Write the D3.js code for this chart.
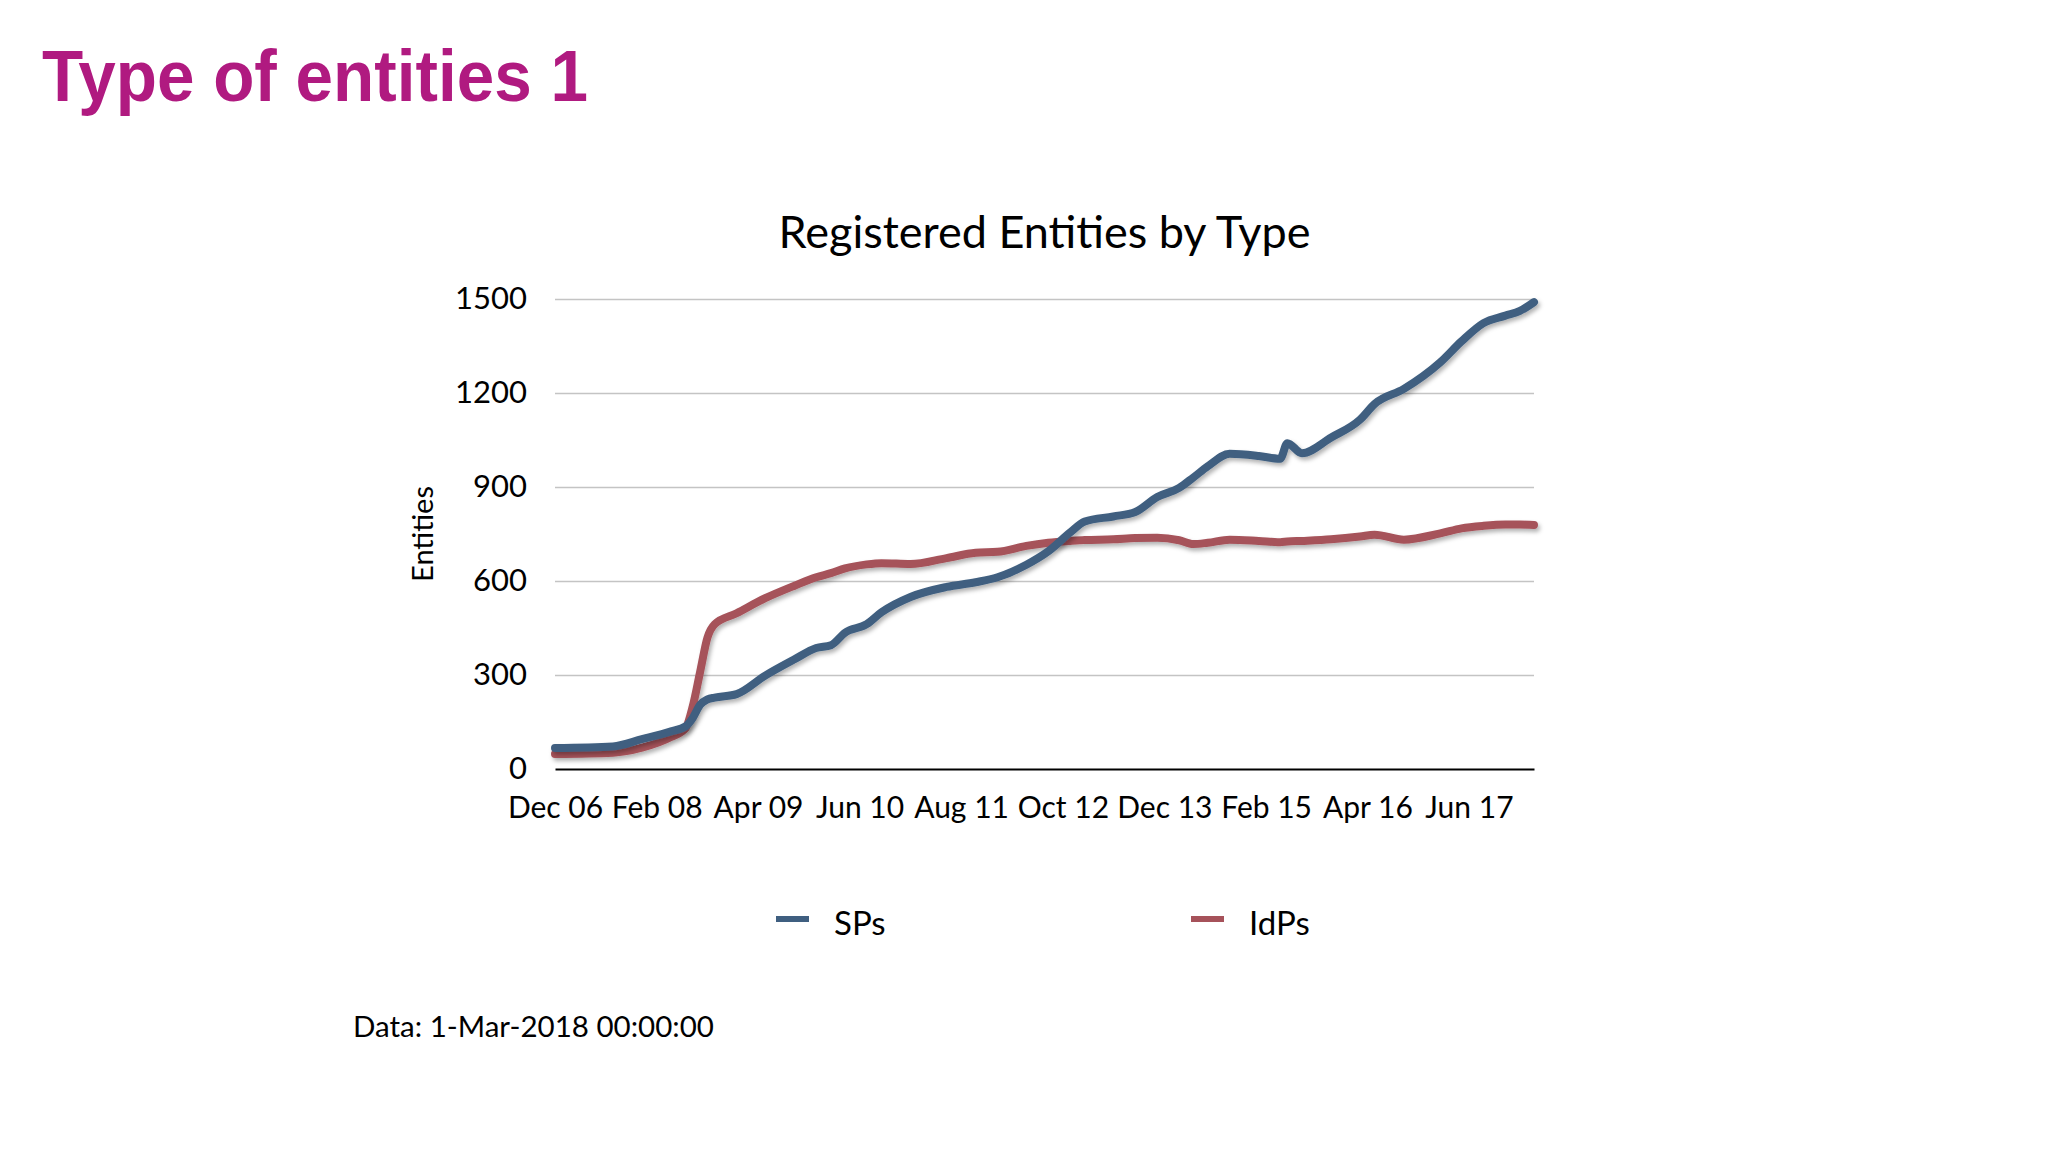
<!DOCTYPE html>
<html>
<head>
<meta charset="utf-8">
<script src="https://cdn.jsdelivr.net/npm/d3@7"></script>
<style>
  html, body { margin: 0; padding: 0; background: #ffffff; }
  svg { display: block; }
</style>
</head>
<body>
<script>
// monthly readings (Dec 2006 .. Mar 2018)
var months = ["2006-12","2007-08","2007-12","2008-04","2008-06","2008-07","2008-08","2008-09","2008-10",
              "2009-01","2009-05","2009-09","2009-12","2010-02","2010-04","2010-07","2010-09","2011-01",
              "2011-06","2011-10","2012-01","2012-05","2012-08","2012-11","2013-01","2013-05","2013-08",
              "2013-11","2014-02","2014-04","2014-06","2014-09","2015-01","2015-04","2015-05","2015-07",
              "2015-11","2016-03","2016-05","2016-09","2017-02","2017-05","2017-08","2017-11","2018-01","2018-03"];
var sps  = [67, 72, 95, 120, 136, 163, 205, 222, 228,
            239, 298, 350, 386, 395, 435, 462, 500, 549,
            581, 596, 612, 652, 695, 755, 790, 806, 820,
            868, 897, 930, 966, 1006, 999, 990, 1040, 1008,
            1058, 1115, 1165, 1213, 1298, 1365, 1423, 1447, 1462, 1490];
var idps = [48, 52, 68, 102, 130, 200, 310, 420, 462,
            497, 545, 585, 612, 625, 640, 653, 657, 654,
            673, 690, 693, 712, 722, 728, 731, 733, 737,
            738, 730, 718, 722, 732, 728, 724, 726, 728,
            733, 742, 748, 732, 752, 768, 776, 780, 780, 779];

var tickMonths = ["2006-12","2008-02","2009-04","2010-06","2011-08","2012-10","2013-12","2015-02","2016-04","2017-06"];
var tickLabels = ["Dec 06","Feb 08","Apr 09","Jun 10","Aug 11","Oct 12","Dec 13","Feb 15","Apr 16","Jun 17"];
var yTicks = [0, 300, 600, 900, 1200, 1500];

var seriesNames = ["SPs", "IdPs"];
var seriesColors = ["#3f5f80", "#a6525a"];

var W = 2048, H = 1152;
var plotLeft = 555, plotRight = 1534, plotTop = 299, plotBottom = 769;
var parse = d3.timeParse("%Y-%m");
var gill = "'Lato', 'Open Sans', sans-serif";

var svg = d3.select("body").append("svg")
    .attr("width", W)
    .attr("height", H);

svg.append("rect").attr("width", W).attr("height", H).attr("fill", "#ffffff");

var defs = svg.append("defs");
var shadow = defs.append("filter").attr("id", "shadow")
    .attr("x", "-5%").attr("y", "-5%").attr("width", "110%").attr("height", "115%");
shadow.append("feDropShadow")
    .attr("dx", 2).attr("dy", 3).attr("stdDeviation", 2.2)
    .attr("flood-color", "#000").attr("flood-opacity", 0.3);

// slide heading (slightly condensed bold face in the original)
svg.append("text")
    .attr("x", 42).attr("y", 101)
    .attr("font-family", "'Liberation Sans', Arial, sans-serif")
    .attr("font-weight", "bold")
    .attr("font-size", 72)
    .attr("textLength", 546)
    .attr("lengthAdjust", "spacingAndGlyphs")
    .attr("fill", "#b01a80")
    .text("Type of entities 1");

var x = d3.scaleTime()
    .domain([parse("2006-12"), parse("2018-03")])
    .range([plotLeft, plotRight]);

var y = d3.scaleLinear()
    .domain([0, 1500])
    .range([plotBottom, plotTop]);

// gridlines
svg.append("g")
    .attr("transform", "translate(" + plotLeft + ",0)")
    .call(d3.axisLeft(y).tickValues(yTicks.slice(1)).tickSize(-(plotRight - plotLeft)).tickFormat(""))
    .call(function (g) { g.select(".domain").remove(); })
    .selectAll("line")
    .attr("stroke", "#c4c4c4")
    .attr("stroke-width", 1.6);

// y axis labels
var yAxis = svg.append("g")
    .attr("transform", "translate(" + plotLeft + ",0)")
    .call(d3.axisLeft(y).tickValues(yTicks).tickSize(0).tickPadding(28).tickFormat(d3.format("d")));
yAxis.select(".domain").remove();
yAxis.selectAll("text")
    .attr("font-family", gill)
    .attr("font-size", 31)
    .attr("fill", "#000");

// x axis
var xAxis = svg.append("g")
    .attr("transform", "translate(0," + plotBottom + ")")
    .call(d3.axisBottom(x)
        .tickValues(tickMonths.map(parse))
        .tickSize(0)
        .tickPadding(28)
        .tickFormat(function (d, i) { return tickLabels[i]; }));
xAxis.select(".domain").attr("stroke", "#000").attr("stroke-width", 2);
xAxis.selectAll("text")
    .attr("font-family", gill)
    .attr("font-size", 30)
    .attr("fill", "#000");

// chart title
svg.append("text")
    .attr("x", (plotLeft + plotRight) / 2).attr("y", 248)
    .attr("text-anchor", "middle")
    .attr("font-family", gill)
    .attr("font-size", 45)
    .attr("fill", "#000")
    .text("Registered Entities by Type");

// y axis title
svg.append("text")
    .attr("transform", "translate(433," + ((plotTop + plotBottom) / 2) + ") rotate(-90)")
    .attr("text-anchor", "middle")
    .attr("font-family", gill)
    .attr("font-size", 29)
    .attr("fill", "#000")
    .text("Entities");

// lines
var line = d3.line()
    .x(function (d) { return x(d.date); })
    .y(function (d) { return y(d.value); })
    .curve(d3.curveMonotoneX);

var series = [sps, idps].map(function (vals, k) {
    return {
        name: seriesNames[k],
        color: seriesColors[k],
        points: months.map(function (m, i) { return { date: parse(m), value: vals[i] }; })
    };
});

// draw IdPs first so SPs sits on top at the start
svg.selectAll("path.series")
    .data(series.slice().reverse())
    .enter()
    .append("path")
    .attr("class", "series")
    .attr("d", function (d) { return line(d.points); })
    .attr("fill", "none")
    .attr("stroke", function (d) { return d.color; })
    .attr("stroke-width", 8)
    .attr("stroke-linejoin", "round")
    .attr("stroke-linecap", "round")
    .attr("filter", "url(#shadow)");

// legend
var legendX = [776, 1191];
var legend = svg.selectAll("g.legend")
    .data(series)
    .enter()
    .append("g")
    .attr("class", "legend")
    .attr("transform", function (d, i) { return "translate(" + legendX[i] + ",919)"; });
legend.append("line")
    .attr("x1", 0).attr("x2", 33)
    .attr("stroke", function (d) { return d.color; })
    .attr("stroke-width", 6);
legend.append("text")
    .attr("x", 58).attr("y", 16)
    .attr("font-family", gill)
    .attr("font-size", 33)
    .attr("fill", "#000")
    .text(function (d) { return d.name; });

// footnote
svg.append("text")
    .attr("x", 353).attr("y", 1037)
    .attr("font-family", gill)
    .attr("font-size", 29.5)
    .attr("fill", "#000")
    .text("Data: 1-Mar-2018 00:00:00");
</script>
</body>
</html>
